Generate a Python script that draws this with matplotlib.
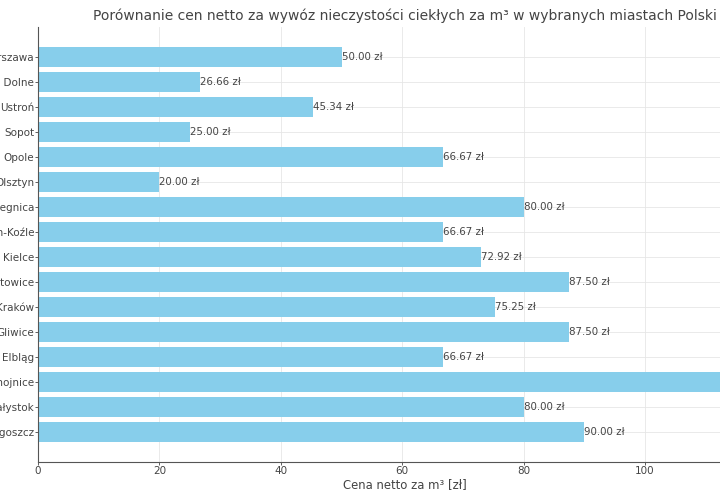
import matplotlib
matplotlib.use("Agg")
import matplotlib.pyplot as plt

cities = ["Warszawa", "Ustrzyki Dolne", "Ustroń", "Sopot", "Opole", "Olsztyn",
          "Legnica", "Kędzierzyn-Koźle", "Kielce", "Katowice", "Kraków",
          "Gliwice", "Elbląg", "Chojnice", "Białystok", "Bydgoszcz"]
prices = [50.00, 26.66, 45.34, 25.00, 66.67, 20.00, 80.00, 66.67, 72.92,
          87.50, 75.25, 87.50, 66.67, 115.00, 80.00, 90.00]

title = "Porównanie cen netto za wywóz nieczystości ciekłych za m³ w wybranych miastach Polski"
xlabel = "Cena netto za m³ [zł]"

text_c = "#444444"
plt.rcParams['font.family'] = ['DejaVu Sans']

fig = plt.figure(figsize=(7.2, 5.0), dpi=100)
ax = fig.add_axes([0.0528, 0.076, 1.018, 0.87])

ax.barh(cities, prices, color="#87CEEB", height=0.8, zorder=2)
ax.invert_yaxis()

for i, v in enumerate(prices):
    ax.text(v, i, f"{v:.2f} zł", va="center", ha="left", fontsize=7.4, color=text_c, zorder=3)

ax.set_title(title, fontsize=10.0, color=text_c, pad=5)
ax.set_xlabel(xlabel, fontsize=8.4, color=text_c, labelpad=1.5)
ax.grid(True, color="#e6e6e6", linewidth=0.6, zorder=0)
ax.set_axisbelow(True)
for s in ["top", "right"]:
    ax.spines[s].set_visible(False)
for s in ["left", "bottom"]:
    ax.spines[s].set_color("#555555")
    ax.spines[s].set_linewidth(0.8)
ax.tick_params(colors=text_c, labelsize=7.5, length=2, width=0.6)
ax.tick_params(axis="y", pad=0.8)
ax.tick_params(axis="x", pad=0.8)

fig.savefig("out.png", dpi=100)
